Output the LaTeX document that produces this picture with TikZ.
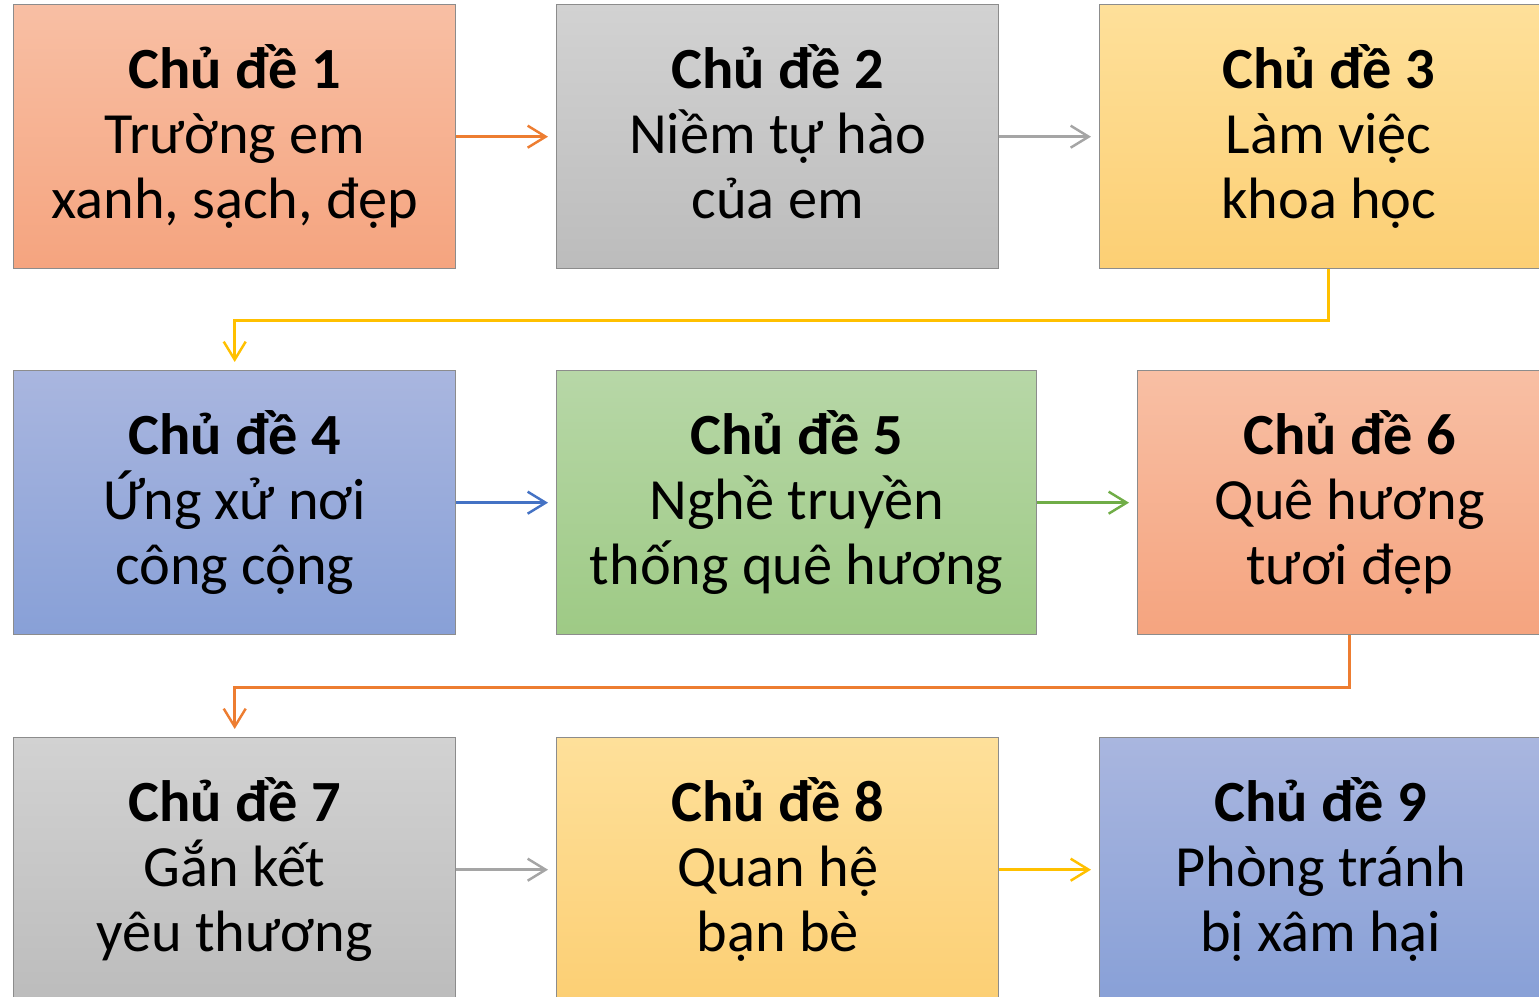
\documentclass[tikz,border=0pt]{standalone}
\usepackage{fontspec}
\setmainfont{Carlito}
\usetikzlibrary{arrows.meta}
\definecolor{oraT}{RGB}{248,191,164}
\definecolor{oraB}{RGB}{245,164,127}
\definecolor{grayT}{RGB}{210,210,210}
\definecolor{grayB}{RGB}{188,188,188}
\definecolor{yelT}{RGB}{254,224,154}
\definecolor{yelB}{RGB}{252,207,116}
\definecolor{bluT}{RGB}{169,182,223}
\definecolor{bluB}{RGB}{136,160,215}
\definecolor{grnT}{RGB}{183,215,167}
\definecolor{grnB}{RGB}{158,202,133}
\definecolor{accO}{RGB}{237,125,49}
\definecolor{accG}{RGB}{165,165,165}
\definecolor{accY}{RGB}{255,192,0}
\definecolor{accB}{RGB}{68,114,196}
\definecolor{accN}{RGB}{112,173,71}
\newcommand{\topichead}[1]{\rule{0pt}{16.5pt}\textbf{Chủ đề #1}}
\tikzset{topic/.style={draw=black!45, line width=0.4pt, inner sep=0pt, anchor=north west,
          minimum height=2.64cm, align=center, font=\fontsize{16.6}{18.5}\selectfont,
          execute at end node={\rule[-7pt]{0pt}{7pt}}},
         link/.style={line width=0.7pt, shorten >=0.08cm},
         >={Straight Barb[length=1.8mm,width=2.2mm]}}

\begin{document}
\begin{tikzpicture}
   \path[use as bounding box, clip] (0,0) rectangle (15.39,-9.97);
   % row 1
   \node[topic, top color=oraT, bottom color=oraB, minimum width=4.42cm] (t1) at ( 0.13,-0.04) {\topichead{1}\\Trường em\\xanh, sạch, đẹp};
   \node[topic, top color=grayT, bottom color=grayB, minimum width=4.42cm] (t2) at ( 5.56,-0.04) {\topichead{2}\\Niềm tự hào\\của em};
   \node[topic, top color=yelT, bottom color=yelB, minimum width=4.58cm] (t3) at (10.99,-0.04) {\topichead{3}\\Làm việc\\khoa học};
   % row 2
   \node[topic, top color=bluT, bottom color=bluB, minimum width=4.42cm] (t4) at ( 0.13,-3.70) {\topichead{4}\\Ứng xử nơi\\công cộng};
   \node[topic, top color=grnT, bottom color=grnB, minimum width=4.80cm] (t5) at ( 5.56,-3.70) {\topichead{5}\\Nghề truyền\\thống quê hương};
   \node[topic, top color=oraT, bottom color=oraB, minimum width=4.24cm] (t6) at (11.37,-3.70) {\topichead{6}\\Quê hương\\tươi đẹp};
   % row 3
   \node[topic, top color=grayT, bottom color=grayB, minimum width=4.42cm] (t7) at ( 0.13,-7.37) {\topichead{7}\\Gắn kết\\yêu thương};
   \node[topic, top color=yelT, bottom color=yelB, minimum width=4.42cm] (t8) at ( 5.56,-7.37) {\topichead{8}\\Quan hệ\\bạn bè};
   \node[topic, top color=bluT, bottom color=bluB, minimum width=4.42cm] (t9) at (10.99,-7.37) {\topichead{9}\\Phòng tránh\\bị xâm hại};
   % links
   \draw[link, accO, ->] (t1) -- (t2);
   \draw[link, accG, ->] (t2) -- (t3);
   \draw[link, accY, ->] (t3.south) -- ++(0,-0.51) -| (t4.north);
   \draw[link, accB, ->] (t4) -- (t5);
   \draw[link, accN, ->] (t5) -- (t6);
   \draw[link, accO, ->] (t6.south) -- ++(0,-0.52) -| (t7.north);
   \draw[link, accG, ->] (t7) -- (t8);
   \draw[link, accY, ->] (t8) -- (t9);
\end{tikzpicture}
\end{document}
